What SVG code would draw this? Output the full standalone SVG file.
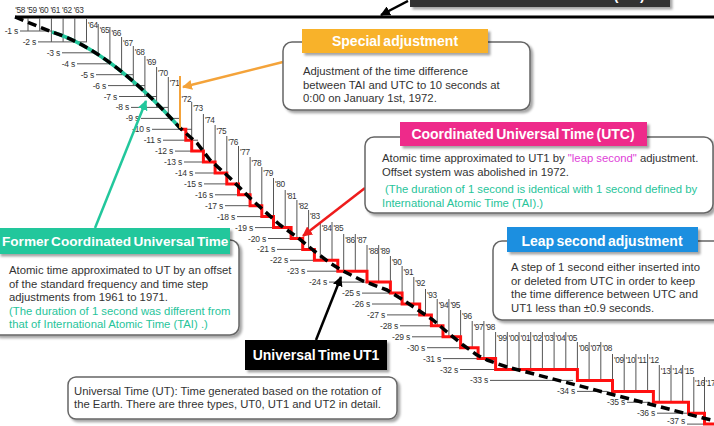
<svg xmlns="http://www.w3.org/2000/svg" width="714" height="426" viewBox="0 0 714 426">
<defs>
<style>
text{font-family:"Liberation Sans",Arial,sans-serif}
.g{stroke:#555;stroke-width:1;fill:none}
.lv{font-size:8.5px;fill:#333;text-anchor:end;letter-spacing:-0.2px}
.yr{font-size:8.3px;fill:#333;letter-spacing:-0.4px}
.box{fill:#fff;stroke:#666;stroke-width:1.5;filter:url(#sh)}
.tab{filter:url(#sh)}
.tt{font-size:14px;font-weight:bold;fill:#fff;word-spacing:-1.5px}
.bd{font-size:11.3px;fill:#333}
.gr{fill:#27c49a}
.mg{fill:#e040d8}
.arr{fill:none;stroke-width:2.5}
</style>
<filter id="sh" x="-10%" y="-10%" width="125%" height="140%"><feDropShadow dx="2.5" dy="2.5" stdDeviation="1.2" flood-color="#000" flood-opacity="0.35"/></filter>
<marker id="mk" viewBox="0 0 10 10" refX="9" refY="5" markerWidth="4" markerHeight="4" orient="auto"><path d="M0,0 L10,5 L0,10 z" fill="#000"/></marker>
<marker id="mo" viewBox="0 0 10 10" refX="9" refY="5" markerWidth="4" markerHeight="4" orient="auto"><path d="M0,0 L10,5 L0,10 z" fill="#f4a33a"/></marker>
<marker id="mr" viewBox="0 0 10 10" refX="9" refY="5" markerWidth="4" markerHeight="4" orient="auto"><path d="M0,0 L10,5 L0,10 z" fill="#ee1c1c"/></marker>
<marker id="mg" viewBox="0 0 10 10" refX="9" refY="5" markerWidth="4" markerHeight="4" orient="auto"><path d="M0,0 L10,5 L0,10 z" fill="#22c79c"/></marker>
</defs>

<g id="tai-box">
<rect x="410" y="-20" width="260" height="27" fill="#333" class="tab"/>
<text x="544" y="0" class="tt" text-anchor="middle">International Atomic Time (TAI)</text>
</g>

<line x1="15" y1="17" x2="714" y2="17" stroke="#000" stroke-width="3"/>

<g id="grid">
<path class="g" d="M20,31H52M38,41.9H87M62,52.8H99M77,63.8H111M96,74.7H133M108,85.6H145M119,96.5H157M131,107.4H168M141,118.4H180M152,129.3H192M163,140.2H198M175,151.1H204M184,162H215M195,173H227M204,183.9H239M215,194.8H250M225,205.7H262M237,216.6H274M255,227.6H288M268,238.5H303M277,249.4H315M290,260.3H330M307,271.2H345M329,282.1H372M362,293.1H402M372,304H414M387,314.9H432M400,325.8H443M412,336.8H455M427,347.7H472M443,358.6H490M460,369.5H500M490,380.4H573M577,391.4H607M627,402.3H650M657,413.2H690M687,424.1H704"/>
<path class="g" d="M28,18V31M39.7,18V31M51.4,18V41.9M63.1,18V41.9M74.8,18V41.9M86.5,19V41.9M98.2,24V52.8M109.9,27V63.8M121.6,37V74.7M133.3,46V85.6M144.9,56V96.5M156.6,67V107.4M168.3,77V118.4M191.7,102V151.1M203.4,114V162M215.1,125V173M226.8,136V183.9M238.5,146V194.8M250.1,157V205.7M261.8,167V216.6M273.5,178V227.6M285.2,190V227.6M296.9,200V238.5M308.6,210V249.4M320.3,222V260.3M332,222V260.3M343.7,234V271.2M355.3,234V271.2M367,245V282.1M378.7,245V282.1M390.4,256V293.1M402.1,266V304M413.8,277V304M425.5,289V314.9M437.2,299V325.8M448.9,299V336.8M460.6,310V347.7M472.2,321V347.7M483.9,321V358.6M495.6,332V369.5M507.3,332V369.5M519,332V369.5M530.7,332V369.5M542.4,332V369.5M554.1,332V369.5M565.8,332V369.5M577.4,342V380.4M589.1,342V380.4M600.8,342V380.4M612.5,354V391.4M624.2,354V391.4M635.9,354V391.4M647.6,354V391.4M659.3,365V402.3M671,365V402.3M682.7,365V402.3M693.8,377V413.2M704.5,377V424.1"/>
</g>

<g id="level-labels">
<text class="lv" x="18" y="34">-1 s</text>
<text class="lv" x="36" y="44.9">-2 s</text>
<text class="lv" x="60" y="55.8">-3 s</text>
<text class="lv" x="75" y="66.8">-4 s</text>
<text class="lv" x="94" y="77.7">-5 s</text>
<text class="lv" x="106" y="88.6">-6 s</text>
<text class="lv" x="117" y="99.5">-7 s</text>
<text class="lv" x="129" y="110.4">-8 s</text>
<text class="lv" x="139" y="121.4">-9 s</text>
<text class="lv" x="150" y="132.3">-10 s</text>
<text class="lv" x="161" y="143.2">-11 s</text>
<text class="lv" x="173" y="154.1">-12 s</text>
<text class="lv" x="182" y="165">-13 s</text>
<text class="lv" x="193" y="176">-14 s</text>
<text class="lv" x="202" y="186.9">-15 s</text>
<text class="lv" x="213" y="197.8">-16 s</text>
<text class="lv" x="223" y="208.7">-17 s</text>
<text class="lv" x="235" y="219.6">-18 s</text>
<text class="lv" x="253" y="230.6">-19 s</text>
<text class="lv" x="266" y="241.5">-20 s</text>
<text class="lv" x="275" y="252.4">-21 s</text>
<text class="lv" x="288" y="263.3">-22 s</text>
<text class="lv" x="305" y="274.2">-23 s</text>
<text class="lv" x="327" y="285.1">-24 s</text>
<text class="lv" x="360" y="296.1">-25 s</text>
<text class="lv" x="370" y="307">-26 s</text>
<text class="lv" x="385" y="317.9">-27 s</text>
<text class="lv" x="398" y="328.8">-28 s</text>
<text class="lv" x="410" y="339.8">-29 s</text>
<text class="lv" x="425" y="350.7">-30 s</text>
<text class="lv" x="441" y="361.6">-31 s</text>
<text class="lv" x="458" y="372.5">-32 s</text>
<text class="lv" x="488" y="383.4">-33 s</text>
<text class="lv" x="575" y="394.4">-34 s</text>
<text class="lv" x="625" y="405.3">-35 s</text>
<text class="lv" x="655" y="416.2">-36 s</text>
<text class="lv" x="685" y="423.8">-37 s</text>
</g>

<g id="year-labels">
<text class="yr" x="15.3" y="13">'58</text>
<text class="yr" x="27" y="13">'59</text>
<text class="yr" x="38.7" y="13">'60</text>
<text class="yr" x="50.4" y="13">'61</text>
<text class="yr" x="62.1" y="13">'62</text>
<text class="yr" x="73.8" y="13">'63</text>
<text class="yr" x="88" y="28">'64</text>
<text class="yr" x="99.7" y="33">'65</text>
<text class="yr" x="111.4" y="36">'66</text>
<text class="yr" x="123.1" y="46">'67</text>
<text class="yr" x="134.8" y="55">'68</text>
<text class="yr" x="146.4" y="65">'69</text>
<text class="yr" x="158.1" y="76">'70</text>
<text class="yr" x="169.8" y="86">'71</text>
<text class="yr" x="181.5" y="102">'72</text>
<text class="yr" x="193.2" y="111">'73</text>
<text class="yr" x="204.9" y="123">'74</text>
<text class="yr" x="216.6" y="134">'75</text>
<text class="yr" x="228.3" y="145">'76</text>
<text class="yr" x="240" y="155">'77</text>
<text class="yr" x="251.6" y="166">'78</text>
<text class="yr" x="263.3" y="176">'79</text>
<text class="yr" x="275" y="187">'80</text>
<text class="yr" x="286.7" y="199">'81</text>
<text class="yr" x="298.4" y="209">'82</text>
<text class="yr" x="310.1" y="219">'83</text>
<text class="yr" x="321.8" y="231">'84</text>
<text class="yr" x="333.5" y="231">'85</text>
<text class="yr" x="345.2" y="243">'86</text>
<text class="yr" x="356.8" y="243">'87</text>
<text class="yr" x="368.5" y="254">'88</text>
<text class="yr" x="380.2" y="254">'89</text>
<text class="yr" x="391.9" y="265">'90</text>
<text class="yr" x="403.6" y="275">'91</text>
<text class="yr" x="415.3" y="286">'92</text>
<text class="yr" x="427" y="298">'93</text>
<text class="yr" x="438.7" y="308">'94</text>
<text class="yr" x="450.4" y="308">'95</text>
<text class="yr" x="462.1" y="319">'96</text>
<text class="yr" x="473.7" y="330">'97</text>
<text class="yr" x="485.4" y="330">'98</text>
<text class="yr" x="497.1" y="341">'99</text>
<text class="yr" x="508.8" y="341">'00</text>
<text class="yr" x="520.5" y="341">'01</text>
<text class="yr" x="532.2" y="341">'02</text>
<text class="yr" x="543.9" y="341">'03</text>
<text class="yr" x="555.6" y="341">'04</text>
<text class="yr" x="567.3" y="341">'05</text>
<text class="yr" x="578.9" y="351">'06</text>
<text class="yr" x="590.6" y="351">'07</text>
<text class="yr" x="602.3" y="351">'08</text>
<text class="yr" x="614" y="363">'09</text>
<text class="yr" x="625.7" y="363">'10</text>
<text class="yr" x="637.4" y="363">'11</text>
<text class="yr" x="649.1" y="363">'12</text>
<text class="yr" x="660.8" y="374">'13</text>
<text class="yr" x="672.5" y="374">'14</text>
<text class="yr" x="684.2" y="374">'15</text>
<text class="yr" x="695" y="386">'16</text>
<text class="yr" x="705.5" y="386">'17</text>
</g>

<g id="connectors">
<path id="utc-steps" fill="none" stroke="#ff1010" stroke-width="3" d="M180,129.3H185.8V140.2H191.7V151.1H203.4V162H215.1V173H226.8V183.9H238.5V194.8H250.1V205.7H261.8V216.6H273.5V227.6H291.1V238.5H302.7V249.4H314.4V260.3H337.8V271.2H367V282.1H390.4V293.1H402.1V304H419.7V314.9H431.4V325.8H443V336.8H460.6V347.7H478.1V358.6H495.6V369.5H577.4V380.4H612.5V391.4H653.4V402.3H688.5V413.2H704.5V424.1H716"/>
<path id="former-utc-curve" fill="none" stroke="#22c79c" stroke-width="3.5" d="M52,32 Q110,50 180,128"/>
<path id="ut1-curve" fill="none" stroke="#000" stroke-width="3.5" stroke-dasharray="9 5" stroke-linejoin="round" d="M15,17 L52,32 Q110,50 180,128 L197,143 L210,160 L230,178 L250,198 L280,225 L297,237 L313,250 L330,263 L343,271 L363,281 L387,290 L403,300 L418,310 L433,320 L447,332 L463,345 L477,355 L487,360 L507,367 L703,418 L716,421"/>
<path id="special-mark" fill="none" stroke="#f4a33a" stroke-width="2" d="M180,76V128"/>
<path class="arr" stroke="#f4a33a" marker-end="url(#mo)" d="M283,62 L183,87"/>
<path class="arr" stroke="#ee1c1c" marker-end="url(#mr)" d="M365,188 L303,236"/>
<path class="arr" stroke="#22c79c" stroke-width="3" marker-end="url(#mg)" d="M95,228 L146,101"/>
<path class="arr" stroke="#000" marker-end="url(#mk)" d="M316,340 L341,277"/>
<path class="arr" stroke="#000" marker-end="url(#mk)" d="M408,1 L381,15"/>
</g>

<g id="special-adjustment">
<rect class="box" x="283" y="42" width="247" height="68" rx="9"/>
<rect class="tab" x="302" y="29" width="186" height="24" fill="#f8b22c"/>
<text class="tt" x="395" y="46" text-anchor="middle">Special adjustment</text>
<text class="bd" x="303" y="75">Adjustment of the time difference</text>
<text class="bd" x="303" y="88.5">between TAI and UTC to 10 seconds at</text>
<text class="bd" x="303" y="102">0:00 on January 1st, 1972.</text>
</g>

<g id="utc">
<rect class="box" x="365" y="137" width="348" height="76" rx="9"/>
<rect class="tab" x="400" y="122" width="247" height="24" fill="#ee2a8a"/>
<text class="tt" x="523" y="139" text-anchor="middle">Coordinated Universal Time (UTC)</text>
<text class="bd" x="382" y="162">Atomic time approximated to UT1 by <tspan class="mg">&quot;leap second&quot;</tspan> adjustment.</text>
<text class="bd" x="382" y="175.5">Offset system was abolished in 1972.</text>
<text class="bd gr" x="385" y="193">(The duration of 1 second is identical with 1 second defined by</text>
<text class="bd gr" x="382" y="206.5">International Atomic Time (TAI).)</text>
</g>

<g id="leap-second">
<rect class="box" x="493" y="241" width="235" height="79" rx="9"/>
<rect class="tab" x="507" y="227" width="191" height="25" fill="#1e8fe0"/>
<text class="tt" x="602" y="246" text-anchor="middle">Leap second adjustment</text>
<text class="bd" x="511" y="271">A step of 1 second either inserted into</text>
<text class="bd" x="511" y="284.5">or deleted from UTC in order to keep</text>
<text class="bd" x="511" y="298">the time difference between UTC and</text>
<text class="bd" x="511" y="311.5">UT1 less than ±0.9 seconds.</text>
</g>

<g id="former-utc">
<rect class="box" x="-10" y="240" width="249" height="95" rx="9"/>
<rect class="tab" x="-2" y="228" width="232" height="26" fill="#22c79c"/>
<text class="tt" x="2" y="246" style="font-size:13.6px">Former Coordinated Universal Time</text>
<text class="bd" x="9" y="274">Atomic time approximated to UT by an offset</text>
<text class="bd" x="9" y="287.5">of the standard frequency and time step</text>
<text class="bd" x="9" y="301">adjustments from 1961 to 1971.</text>
<text class="bd gr" x="9" y="314.5">(The duration of 1 second was different from</text>
<text class="bd gr" x="9" y="328">that of International Atomic Time (TAI) .)</text>
</g>

<g id="ut1">
<rect class="tab" x="245" y="340" width="142" height="30" fill="#000"/>
<text class="tt" x="316" y="360" text-anchor="middle">Universal Time UT1</text>
</g>

<g id="universal-time">
<rect class="box" x="68" y="377" width="329" height="42" rx="8"/>
<text class="bd" x="74" y="394.5">Universal Time (UT): Time generated based on the rotation of</text>
<text class="bd" x="74" y="408">the Earth. There are three types, UT0, UT1 and UT2 in detail.</text>
</g>
</svg>
